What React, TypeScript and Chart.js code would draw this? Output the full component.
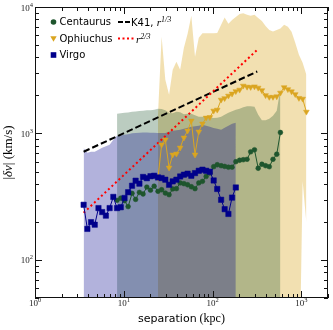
import React, { useEffect, useRef } from 'react';
import { Chart, registerables } from 'chart.js';

Chart.register(...registerables);

// ---------------- data ----------------
const X_MIN = 1;
const X_MAX = 2000;
const Y_MIN = 50;
const Y_MAX = 10000;
const xMajorTicks = [1, 10, 100, 1000];
const yMajorTicks = [100, 1000, 10000];

const virgoSep = [3.53, 3.89, 4.28, 4.71, 5.19, 5.71, 6.29, 6.93, 7.63, 8.4, 9.25, 10.2, 11.2, 12.4, 13.6, 15.0, 16.5, 18.2, 20.0, 22.0, 24.3, 26.7, 29.4, 32.4, 35.6, 39.2, 43.2, 47.6, 52.4, 57.7, 63.5, 70.0, 77.0, 84.8, 93.3, 103, 113, 125, 137, 151, 166, 183];
const virgoVel = [273, 176, 199, 190, 257, 239, 224, 257, 315, 257, 261, 309, 343, 386, 423, 401, 453, 443, 459, 463, 449, 444, 431, 393, 418, 431, 457, 472, 481, 463, 486, 507, 517, 507, 498, 425, 364, 299, 252, 231, 311, 374];
const virgoUpper = [767, 704, 717, 717, 743, 771, 792, 814, 892, 959, 968, 977, 986, 1004, 1007, 1013, 1018, 1018, 1013, 1013, 1007, 1007, 1007, 1031, 1050, 1060, 1070, 1089, 1109, 1130, 1140, 1151, 1172, 1151, 1130, 1104, 1089, 1070, 1109, 1151, 1193, 1215];

const centSep = [8.4, 9.25, 10.2, 11.2, 12.4, 13.6, 15.0, 16.5, 18.2, 20.0, 22.0, 24.3, 26.7, 29.4, 32.4, 35.6, 39.2, 43.2, 47.6, 52.4, 57.7, 63.5, 70.0, 77.0, 84.8, 93.3, 103, 113, 125, 137, 151, 166, 183, 202, 222, 245, 269, 297, 327, 360, 396, 436, 480, 529, 582];
const centVel = [296, 308, 294, 264, 336, 301, 342, 332, 377, 356, 383, 349, 359, 338, 328, 364, 366, 406, 401, 393, 379, 366, 406, 418, 457, 486, 546, 566, 556, 549, 541, 541, 598, 614, 620, 625, 716, 743, 531, 571, 556, 546, 625, 685, 1018];
const centUpper = [1431, 1444, 1458, 1466, 1483, 1492, 1503, 1511, 1525, 1525, 1539, 1567, 1558, 1525, 1458, 1444, 1483, 1469, 1418, 1431, 1431, 1392, 1355, 1355, 1368, 1343, 1324, 1331, 1355, 1406, 1458, 1497, 1539, 1567, 1610, 1640, 1640, 1625, 1406, 1271, 1271, 1306, 1380, 1511, 2254];

const ophSep = [24.3, 26.7, 29.4, 32.4, 35.6, 39.2, 43.2, 47.6, 52.4, 57.7, 63.5, 70.0, 77.0, 84.8, 93.3, 103, 113, 125, 137, 151, 166, 183, 202, 222, 245, 269, 297, 327, 360, 396, 436, 480, 529, 582, 641, 706, 777, 855, 941, 1036, 1141];
const ophVel = [446, 814, 892, 536, 679, 691, 771, 925, 1051, 1261, 679, 1032, 1194, 1331, 1343, 1511, 1538, 1846, 1897, 1986, 2060, 2155, 2215, 2381, 2337, 2326, 2350, 2296, 2193, 2004, 1941, 1941, 1960, 2096, 2316, 2234, 2147, 2041, 1905, 1879, 1483];
const ophUpper = [1405, 5807, 2655, 2021, 3186, 3683, 3186, 4753, 6134, 8508, 4034, 5700, 6210, 6210, 6210, 6210, 6240, 7225, 8275, 7357, 7910, 8350, 8815, 8934, 8666, 8508, 8666, 8199, 7767, 7090, 6590, 6392, 6590, 6776, 7225, 6966, 6358, 5204, 4187, 3616, 2908];
// lower bound: null = below the visible range
const ophLower: (number | null)[] = [null, null, null, null, null, null, null, null, null, null, null, null, null, null, null, null, null, null, null, null, null, null, null, null, null, null, null, null, null, null, null, null, null, null, null, null, null, null, 7, 418, 197];

const k41Sep = [3.53, 319];
const k41Vel = [717, 3090];
const r23Sep = [3.53, 319];
const r23Vel = [236, 4582];

// ---------------- style ----------------
const VIRGO = 'rgb(0,0,139)';
const CENT = 'rgb(30,85,45)';
const OPH = 'rgb(218,165,32)';
const VIRGO_FILL = 'rgba(0,0,139,0.3)';
const CENT_FILL = 'rgba(30,85,45,0.3)';
const OPH_FILL = 'rgba(218,165,32,0.35)';
const SANS = '"DejaVu Sans"';
const SERIF = '"Liberation Serif"';

const pts = (xs: number[], ys: (number | null)[]) => xs.map((x, i) => ({ x, y: ys[i] as number }));

type Seg = { t: string; f: string; dy?: number };

function segWidth(ctx: CanvasRenderingContext2D, segs: Seg[]) {
  let w = 0;
  for (const s of segs) {
    ctx.font = s.f;
    w += ctx.measureText(s.t).width;
  }
  return w;
}
function drawSegs(ctx: CanvasRenderingContext2D, segs: Seg[], x: number, y: number) {
  let cx = x;
  for (const s of segs) {
    ctx.font = s.f;
    ctx.fillText(s.t, cx, y + (s.dy || 0));
    cx += ctx.measureText(s.t).width;
  }
}

const decoPlugin = {
  id: 'deco',
  afterDraw(chart: any) {
    const ctx: CanvasRenderingContext2D = chart.ctx;
    const { left, right, top, bottom } = chart.chartArea;
    const xs = chart.scales.x;
    const ys = chart.scales.y;
    ctx.save();
    // frame
    ctx.strokeStyle = '#111';
    ctx.lineWidth = 1;
    ctx.strokeRect(Math.round(left) + 0.5, Math.round(top) + 0.5, Math.round(right - left) - 1, Math.round(bottom - top) - 1);

    const line = (x1: number, y1: number, x2: number, y2: number) => {
      ctx.beginPath();
      ctx.moveTo(x1, y1);
      ctx.lineTo(x2, y2);
      ctx.stroke();
    };
    // x ticks
    for (const m of xMajorTicks) {
      for (let k = 1; k <= 9; k++) {
        const v = m * k;
        if (v < X_MIN || v > X_MAX) continue;
        const px = Math.round(xs.getPixelForValue(v)) + 0.5;
        const len = k === 1 ? 7 : 4;
        line(px, bottom, px, bottom - len);
        line(px, top, px, top + len);
      }
    }
    // y ticks
    const yDecades = [yMajorTicks[0] / 10, ...yMajorTicks];
    for (const m of yDecades) {
      for (let k = 1; k <= 9; k++) {
        const v = m * k;
        if (v < Y_MIN || v > Y_MAX) continue;
        const py = Math.round(ys.getPixelForValue(v)) + 0.5;
        const len = k === 1 ? 7 : 4;
        line(left, py, left + len, py);
        line(right, py, right - len, py);
      }
    }
    // tick labels
    ctx.fillStyle = '#222';
    ctx.textBaseline = 'alphabetic';
    ctx.textAlign = 'left';
    const base = `9px ${SERIF}`;
    const sup = `6.5px ${SERIF}`;
    for (const v of xMajorTicks) {
      const px = xs.getPixelForValue(v);
      const segs: Seg[] = [{ t: '10', f: base }, { t: String(Math.round(Math.log10(v))), f: sup, dy: -4 }];
      const w = segWidth(ctx, segs);
      drawSegs(ctx, segs, px - w / 2, bottom + 8);
    }
    for (const v of yMajorTicks) {
      const py = ys.getPixelForValue(v);
      const segs: Seg[] = [{ t: '10', f: base }, { t: String(Math.round(Math.log10(v))), f: sup, dy: -4 }];
      const w = segWidth(ctx, segs);
      drawSegs(ctx, segs, left - 2 - w, py + 3.5);
    }
    // x title
    ctx.fillStyle = '#000';
    const xt: Seg[] = [{ t: 'separation', f: `11px ${SANS}` }, { t: ' (kpc)', f: `12px ${SERIF}` }];
    const xw = segWidth(ctx, xt);
    drawSegs(ctx, xt, (left + right) / 2 - xw / 2, 321.5);
    // y title
    ctx.save();
    ctx.translate(8, (top + bottom) / 2);
    ctx.rotate(-Math.PI / 2);
    const yt: Seg[] = [
      { t: '|', f: `13px ${SERIF}` },
      { t: 'δv', f: `italic 13px ${SERIF}` },
      { t: '| (km/s)', f: `13px ${SERIF}` },
    ];
    const yw = segWidth(ctx, yt);
    drawSegs(ctx, yt, -yw / 2, 4);
    ctx.restore();

    // legend
    const rows = [22, 38.5, 55];
    const mx = 53.5;
    const tx = 59.5;
    ctx.textBaseline = 'middle';
    ctx.font = `10px ${SANS}`;
    // Centaurus
    ctx.fillStyle = CENT;
    ctx.beginPath();
    ctx.arc(mx, rows[0], 2.8, 0, Math.PI * 2);
    ctx.fill();
    // Ophiuchus (triangle down)
    ctx.fillStyle = OPH;
    ctx.beginPath();
    ctx.moveTo(mx - 3.2, rows[1] - 2.2);
    ctx.lineTo(mx + 3.2, rows[1] - 2.2);
    ctx.lineTo(mx, rows[1] + 3.2);
    ctx.closePath();
    ctx.fill();
    // Virgo (square)
    ctx.fillStyle = VIRGO;
    ctx.fillRect(mx - 2.8, rows[2] - 2.8, 5.6, 5.6);
    ctx.fillStyle = '#000';
    ctx.font = `10px ${SANS}`;
    ctx.fillText('Centaurus', tx, rows[0] + 0.5);
    ctx.fillText('Ophiuchus', tx, rows[1] + 0.5);
    ctx.fillText('Virgo', tx, rows[2] + 0.5);

    // second column
    ctx.lineWidth = 2;
    ctx.strokeStyle = '#000';
    ctx.setLineDash([5, 2]);
    line(118, rows[0], 130, rows[0]);
    ctx.strokeStyle = 'red';
    ctx.setLineDash([2, 2.5]);
    line(118, rows[1], 134, rows[1]);
    ctx.setLineDash([]);
    ctx.textBaseline = 'alphabetic';
    ctx.fillStyle = '#000';
    drawSegs(ctx, [
      { t: 'K41, ', f: `10px ${SANS}` },
      { t: 'r', f: `italic 11px ${SERIF}` },
      { t: '1/3', f: `italic 8px ${SERIF}`, dy: -4 },
    ], 131, rows[0] + 4);
    drawSegs(ctx, [
      { t: 'r', f: `italic 11px ${SERIF}` },
      { t: '2/3', f: `italic 8px ${SERIF}`, dy: -4 },
    ], 136, rows[1] + 4);
    ctx.restore();
  },
};

export default function App() {
  const ref = useRef<HTMLCanvasElement>(null);
  useEffect(() => {
    document.body.style.margin = '0';
    const canvas = ref.current!;
    const band = (xs: number[], ys: number[], bg: string, fill: any, order: number) => ({
      data: pts(xs, ys),
      borderColor: 'rgba(0,0,0,0)',
      borderWidth: 0,
      backgroundColor: bg,
      pointRadius: 0,
      fill,
      order,
      tension: 0,
    });
    const chart = new Chart(canvas, {
      type: 'line',
      data: {
        datasets: [
          {
            data: pts(ophSep, ophLower.map((v) => (v == null ? Y_MIN : v))),
            borderColor: 'rgba(0,0,0,0)',
            borderWidth: 0,
            pointRadius: 0,
            fill: false,
            order: 10,
          },
          band(ophSep, ophUpper, OPH_FILL, { target: 0 }, 9),
          band(centSep, centUpper, CENT_FILL, 'start', 8),
          band(virgoSep, virgoUpper, VIRGO_FILL, 'start', 7),
          {
            data: pts(k41Sep, k41Vel),
            borderColor: '#000',
            borderWidth: 2,
            borderDash: [6.5, 3],
            pointRadius: 0,
            fill: false,
            order: 6,
          },
          {
            data: pts(r23Sep, r23Vel),
            borderColor: 'red',
            borderWidth: 2,
            borderDash: [2, 2.8],
            borderCapStyle: 'butt',
            pointRadius: 0,
            fill: false,
            order: 5,
          },
          {
            data: pts(ophSep, ophVel),
            borderColor: OPH,
            borderWidth: 1,
            backgroundColor: OPH,
            pointStyle: 'triangle',
            rotation: 180,
            pointRadius: 3.3,
            pointBorderWidth: 0.5,
            pointBorderColor: OPH,
            fill: false,
            order: 4,
          },
          {
            data: pts(centSep, centVel),
            borderColor: CENT,
            borderWidth: 1,
            backgroundColor: CENT,
            pointStyle: 'circle',
            pointRadius: 2.4,
            pointBorderWidth: 0.5,
            pointBorderColor: CENT,
            fill: false,
            order: 3,
          },
          {
            data: pts(virgoSep, virgoVel),
            borderColor: VIRGO,
            borderWidth: 1,
            backgroundColor: VIRGO,
            pointStyle: 'rect',
            pointRadius: 3.8,
            pointBorderWidth: 0.5,
            pointBorderColor: VIRGO,
            fill: false,
            order: 2,
          },
        ] as any,
      },
      options: {
        animation: false,
        responsive: false,
        devicePixelRatio: 1,
        events: [],
        layout: { padding: { left: 35, right: 5, top: 7, bottom: 32 } },
        plugins: { legend: { display: false }, tooltip: { enabled: false } },
        scales: {
          x: { type: 'logarithmic', min: X_MIN, max: X_MAX, display: false },
          y: { type: 'logarithmic', min: Y_MIN, max: Y_MAX, display: false },
        },
      } as any,
      plugins: [decoPlugin],
    });
    return () => chart.destroy();
  }, []);
  return (
    <div style={{ position: 'absolute', left: 0, top: 0, width: 333, height: 330, background: '#fff' }}>
      <canvas ref={ref} width={333} height={330} style={{ display: 'block', width: 333, height: 330 }} />
    </div>
  );
}
